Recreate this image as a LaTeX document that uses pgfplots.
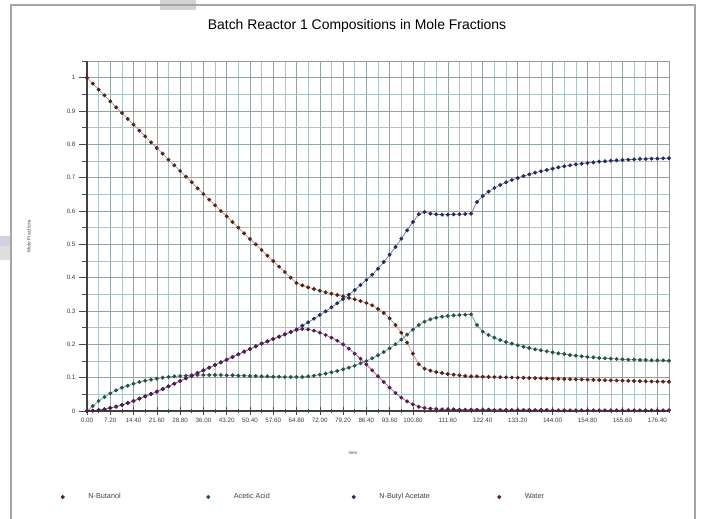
\documentclass[border=0pt]{standalone}
\usepackage{pgfplots}
\pgfplotsset{compat=1.18}
\usepackage{pgfplotstable}
\usepackage{fontspec}
\setmainfont{Liberation Sans}

\definecolor{buDot}{HTML}{4E2620}
\definecolor{buLine}{HTML}{D98A6A}
\definecolor{aaDot}{HTML}{27524A}
\definecolor{aaLine}{HTML}{6F9F8F}
\definecolor{baDot}{HTML}{262C58}
\definecolor{baLine}{HTML}{6B74B0}
\definecolor{wDot}{HTML}{52204C}
\definecolor{wLine}{HTML}{B150A5}
\definecolor{gridMinor}{HTML}{ACC6C6}
\definecolor{gridMajor}{HTML}{94A4A4}

% time, N-Butanol, Acetic Acid, N-Butyl Acetate, Water
\pgfplotstableread{
t bu aa ba w
0 1.000 0.000 0.000 0.000
1.8 0.982 0.015 0.001 0.001
3.6 0.964 0.030 0.003 0.003
5.4 0.947 0.042 0.005 0.005
7.2 0.929 0.053 0.009 0.009
9.0 0.911 0.062 0.013 0.013
10.8 0.894 0.070 0.018 0.018
12.6 0.876 0.076 0.024 0.024
14.4 0.859 0.082 0.030 0.030
16.2 0.841 0.087 0.037 0.037
18.0 0.824 0.091 0.044 0.044
19.8 0.806 0.094 0.051 0.051
21.6 0.789 0.097 0.058 0.058
23.4 0.772 0.100 0.066 0.066
25.2 0.754 0.102 0.074 0.074
27.0 0.737 0.104 0.082 0.082
28.8 0.720 0.105 0.090 0.090
30.6 0.703 0.106 0.098 0.098
32.4 0.686 0.107 0.106 0.106
34.2 0.668 0.108 0.114 0.114
36.0 0.651 0.108 0.122 0.122
37.8 0.634 0.108 0.130 0.130
39.6 0.617 0.108 0.138 0.138
41.4 0.600 0.108 0.146 0.146
43.2 0.584 0.107 0.154 0.154
45.0 0.567 0.107 0.162 0.162
46.8 0.550 0.106 0.170 0.170
48.6 0.533 0.106 0.178 0.178
50.4 0.516 0.105 0.186 0.186
52.2 0.500 0.105 0.194 0.194
54.0 0.483 0.104 0.202 0.202
55.8 0.466 0.104 0.209 0.209
57.6 0.450 0.103 0.216 0.216
59.4 0.433 0.103 0.223 0.223
61.2 0.417 0.102 0.230 0.230
63.0 0.400 0.102 0.237 0.237
64.8 0.384 0.102 0.245 0.243
66.6 0.377 0.102 0.256 0.246
68.4 0.371 0.104 0.266 0.245
70.2 0.366 0.106 0.277 0.241
72.0 0.361 0.109 0.288 0.235
73.8 0.356 0.112 0.299 0.228
75.6 0.352 0.116 0.311 0.220
77.4 0.348 0.120 0.323 0.211
79.2 0.344 0.125 0.336 0.200
81.0 0.339 0.130 0.349 0.187
82.8 0.335 0.136 0.363 0.172
84.6 0.330 0.143 0.378 0.157
86.4 0.324 0.150 0.393 0.140
88.2 0.317 0.158 0.409 0.122
90.0 0.306 0.167 0.427 0.104
91.8 0.294 0.177 0.447 0.087
93.6 0.278 0.188 0.469 0.070
95.4 0.258 0.200 0.492 0.054
97.2 0.235 0.214 0.517 0.040
99.0 0.205 0.229 0.542 0.029
100.8 0.172 0.244 0.567 0.020
102.6 0.140 0.258 0.590 0.013
104.4 0.127 0.268 0.597 0.009
106.2 0.121 0.275 0.592 0.007
108.0 0.117 0.280 0.590 0.006
109.8 0.114 0.283 0.589 0.005
111.6 0.111 0.285 0.589 0.005
113.4 0.109 0.287 0.590 0.005
115.2 0.107 0.288 0.590 0.004
117.0 0.105 0.289 0.591 0.004
118.8 0.104 0.290 0.592 0.004
120.6 0.104 0.258 0.627 0.004
122.4 0.103 0.238 0.645 0.004
124.2 0.1025 0.228 0.658 0.004
126.0 0.102 0.220 0.669 0.003
127.8 0.1015 0.213 0.678 0.003
129.6 0.101 0.207 0.686 0.003
131.4 0.1005 0.202 0.693 0.003
133.2 0.100 0.197 0.699 0.003
135.0 0.0995 0.193 0.705 0.003
136.8 0.099 0.189 0.710 0.003
138.6 0.0985 0.185 0.715 0.003
140.4 0.098 0.182 0.719 0.003
142.2 0.0975 0.179 0.723 0.003
144.0 0.097 0.176 0.727 0.002
145.8 0.0965 0.173 0.731 0.002
147.6 0.096 0.171 0.734 0.002
149.4 0.0955 0.168 0.737 0.002
151.2 0.095 0.166 0.740 0.002
153.0 0.0945 0.164 0.742 0.002
154.8 0.094 0.162 0.744 0.002
156.6 0.0935 0.161 0.746 0.002
158.4 0.093 0.159 0.748 0.002
160.2 0.0925 0.158 0.749 0.002
162.0 0.092 0.157 0.751 0.002
163.8 0.0915 0.156 0.752 0.002
165.6 0.091 0.155 0.753 0.002
167.4 0.0905 0.154 0.754 0.002
169.2 0.090 0.154 0.755 0.002
171.0 0.0895 0.153 0.756 0.002
172.8 0.089 0.153 0.756 0.002
174.6 0.0887 0.152 0.757 0.002
176.4 0.0884 0.152 0.757 0.002
178.2 0.0881 0.152 0.758 0.002
180.0 0.0878 0.151 0.758 0.002
}\comp

\begin{document}
\begin{tikzpicture}
\path[use as bounding box, fill=white] (0bp,0bp) rectangle (712bp,519bp);
% page frame of the screenshot
\fill[gray!35] (160bp,509bp) rectangle (196bp,519bp);
\fill[blue!20!gray!30] (0bp,273bp) rectangle (10bp,283bp);
\fill[gray!25] (0bp,259bp) rectangle (10bp,273bp);
\draw[gray!70, line width=1.3bp] (11bp,-2bp) -- (11bp,514bp) -- (695bp,514bp) -- (695bp,-2bp);

\begin{axis}[
  at={(87bp,108bp)}, anchor=south west,
  width=582bp, height=350bp, scale only axis,
  xmin=0, xmax=180, ymin=0, ymax=1.05,
  clip=false,
  /pgf/number format/assume math mode=true,
  xtick={0,7.2,14.4,21.6,28.8,36,43.2,50.4,57.6,64.8,72,79.2,86.4,93.6,100.8,111.6,122.4,133.2,144,154.8,165.6,176.4},
  minor xtick={3.6,10.8,18,25.2,32.4,39.6,46.8,54,61.2,68.4,75.6,82.8,90,97.2,104.4,108,115.2,118.8,126,129.6,136.8,140.4,147.6,151.2,158.4,162,169.2,172.8,180},
  ytick={0,0.1,0.2,0.3,0.4,0.5,0.6,0.7,0.8,0.9,1},
  minor ytick={0.05,0.15,0.25,0.35,0.45,0.55,0.65,0.75,0.85,0.95,1.05},
  xticklabel style={/pgf/number format/.cd, fixed, fixed zerofill, precision=2},
  tick pos=left,
  xtick align=center, ytick align=outside,
  major tick length=8bp, minor tick length=5bp,
  tick style={black!70, line width=0.6bp},
  ticklabel style={font=\fontsize{6.3}{7}\selectfont, text=black!75},
  grid=both,
  major grid style={draw=gridMajor, line width=0.55bp},
  minor grid style={draw=gridMinor, line width=0.55bp},
  axis line style={draw=gray!80, line width=0.9bp},
  title={Batch Reactor 1 Compositions in Mole Fractions},
  title style={at={(axis description cs:0.464,1.083)}, anchor=center, font=\fontsize{14}{16}\selectfont},
  xlabel={time},
  xlabel style={at={(axis description cs:0.457,-0.12)}, anchor=center, font=\fontsize{4.5}{5}\selectfont, text=black!70},
  ylabel={Mole Fractions},
  ylabel style={at={(axis description cs:-0.1,0.5)}, anchor=center, font=\fontsize{5}{6}\selectfont, text=black!70},
  every axis plot/.append style={line width=0.7bp, mark=*, mark size=1.6bp},
  legend image code/.code={\draw[#1] plot coordinates {(0bp,0bp)};},
  legend style={at={(axis description cs:-0.0498,-0.2457)}, anchor=west, draw=none, fill=none,
    legend columns=4, font=\fontsize{7.3}{8}\selectfont, text=black!75},
]
\addplot[draw=buLine, mark options={draw=buDot, fill=buDot}] table[x=t, y=bu] {\comp};
\addlegendentry{\makebox[138.3bp][l]{\hspace*{22bp}N-Butanol}}
\addplot[draw=aaLine, mark options={draw=aaDot, fill=aaDot}] table[x=t, y=aa] {\comp};
\addlegendentry{\makebox[138.3bp][l]{\hspace*{22bp}Acetic Acid}}
\addplot[draw=baLine, mark options={draw=baDot, fill=baDot}] table[x=t, y=ba] {\comp};
\addlegendentry{\makebox[138.3bp][l]{\hspace*{22bp}N-Butyl Acetate}}
\addplot[draw=wLine, mark options={draw=wDot, fill=wDot}] table[x=t, y=w] {\comp};
\addlegendentry{\makebox[138.3bp][l]{\hspace*{22bp}Water}}
\draw[black!75, line width=1.1bp] (rel axis cs:0,1) -- (rel axis cs:0,0) -- (rel axis cs:1,0);
\end{axis}
\end{tikzpicture}
\end{document}
